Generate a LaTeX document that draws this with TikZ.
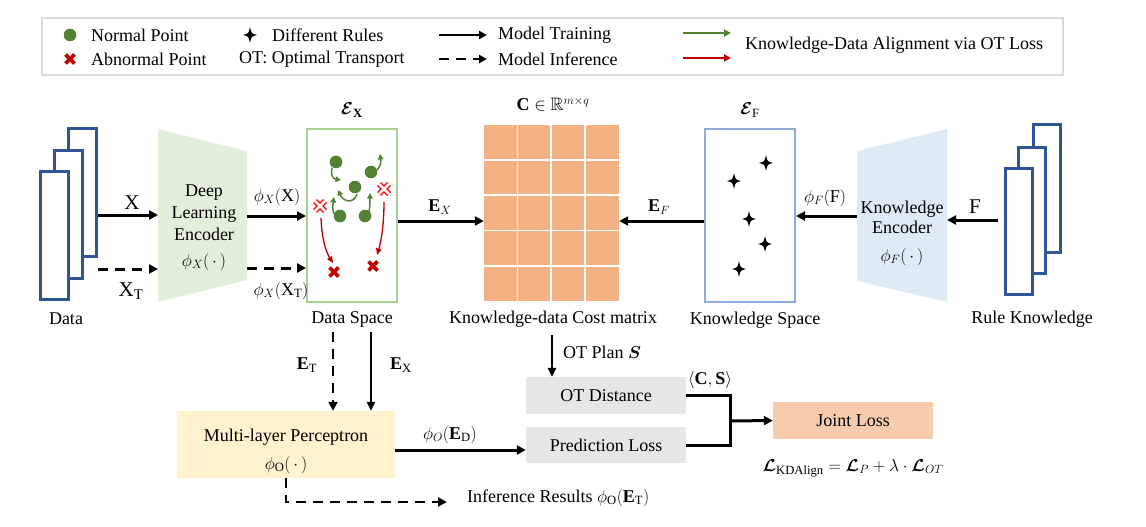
\documentclass[tikz,border=0pt]{standalone}
\usepackage{amsmath,amssymb}
\usepackage{fontspec}
\setmainfont{Liberation Serif}
\usetikzlibrary{arrows.meta,calc}
\definecolor{legendgray}{HTML}{DADADA}
\definecolor{stackblue}{HTML}{2F5597}
\definecolor{dotgreen}{HTML}{548235}
\definecolor{crossred}{HTML}{C00000}
\definecolor{hollowred}{HTML}{FF0000}
\definecolor{dsgreen}{HTML}{A9D18E}
\definecolor{ksblue}{HTML}{8FAADC}
\definecolor{dlgreen}{HTML}{E2EFDA}
\definecolor{keblue}{HTML}{DEEBF7}
\definecolor{matorange}{HTML}{F4B183}
\definecolor{mlpyellow}{HTML}{FFF2CC}
\definecolor{boxgray}{HTML}{E7E6E6}
\definecolor{jointorange}{HTML}{F8CBAD}
\tikzset{
  mainarr/.style={line width=3pt, -{Triangle[length=9pt,width=9pt]}},
  vertarr/.style={line width=2.3pt, -{Triangle[length=9pt,width=8pt]}},
  dasharr/.style={line width=3pt, dash pattern=on 10pt off 7pt, -{Triangle[length=9pt,width=9pt]}},
  legarr/.style={line width=2.6pt, -{Triangle[length=8pt,width=8pt]}},
  legdash/.style={line width=2.6pt, dash pattern=on 10pt off 7pt, -{Triangle[length=8pt,width=8pt]}},
  greenarr/.style={dotgreen, line width=1.5pt, -{Triangle[length=5.5pt,width=5.5pt]}},
  redarr/.style={crossred, line width=1.3pt, -{Triangle[length=6.5pt,width=5.5pt]}},
  stackrect/.style={draw=stackblue, line width=3pt, fill=white},
  bigtxt/.style={font=\fontsize{21}{24}\selectfont},
  rulestar/.pic={\fill (0,-8) .. controls (1.4,-1.4) .. (7,0) .. controls (1.4,1.4) .. (0,8) .. controls (-1.4,1.4) .. (-7,0) .. controls (-1.4,-1.4) .. (0,-8) -- cycle;},
  gdot/.pic={\fill[dotgreen] (0,0) circle[radius=6.3pt];},
  fcross/.pic={\draw[crossred, line width=3.6pt] (-4.5,-4.5) -- (4.5,4.5) (-4.5,4.5) -- (4.5,-4.5);},
  hcross/.pic={\draw[hollowred, line width=5.5pt] (-5,-5) -- (5,5) (-5,5) -- (5,-5);
               \draw[white, line width=2.5pt] (-5,-5) -- (5,5) (-5,5) -- (5,-5);}
}
\begin{document}
\begin{tikzpicture}[x=1pt,y=-1pt, every node/.style={font=\fontsize{18}{21}\selectfont, inner sep=0pt}]
\useasboundingbox (0,0) rectangle (1146,527);

% ---------------- legend ----------------
\node[draw=legendgray, line width=2pt, minimum width=1021pt, minimum height=57pt, anchor=north west] (legend) at (41,17) {};
\pic at (70,35) {gdot};
\node[anchor=west] (lnormal) at (91,35) {Normal Point};
\pic at (70,59) {fcross};
\node[anchor=west] (labnormal) at (91,59) {Abnormal Point};
\pic at (250,35) {rulestar};
\node[anchor=west] (lrules) at (272,35) {Different Rules};
\node[anchor=west] (lot) at (239,59) {OT: Optimal Transport};
\coordinate (lta) at (439,35); \coordinate (ltb) at (487,35);
\draw[legarr] (lta) -- (ltb);
\node[anchor=west] (ltrain) at (498,35) {Model Training};
\coordinate (lia) at (439,59); \coordinate (lib) at (487,59);
\draw[legdash] (lia) -- (lib);
\node[anchor=west] (linf) at (498,59) {Model Inference};
\coordinate (lga) at (683,33); \coordinate (lgb) at (731,33);
\draw[dotgreen, line width=1.8pt, -{Triangle[length=7pt,width=7pt]}] (lga) -- (lgb);
\coordinate (lra) at (683,58); \coordinate (lrb) at (731,58);
\draw[crossred, line width=1.8pt, -{Triangle[length=7pt,width=7pt]}] (lra) -- (lrb);
\node[anchor=west] (lalign) at (745,45) {Knowledge-Data Alignment via OT Loss};

% ---------------- data stack ----------------
\node[stackrect, minimum width=28pt, minimum height=128pt] (d3) at (82,192) {};
\node[stackrect, minimum width=28pt, minimum height=128pt] (d2) at (68,214) {};
\node[stackrect, minimum width=28pt, minimum height=128pt] (d1) at (54,235) {};
\node (datalbl) at (66,319) {Data};

% ---------------- deep learning encoder ----------------
\fill[dlgreen] (158,129) -- (247,151) -- (247,280) -- (158,302) -- cycle;
\coordinate (dlw) at (158,215);
\coordinate (dlwb) at (158,269);
\coordinate (dle) at (247,216);
\coordinate (dleb) at (247,268);
\node[align=center, font=\fontsize{18}{22}\selectfont] (dltext) at (204,213) {Deep\\Learning\\Encoder};
\node (dlphi) at (204,262) {$\phi_X(\,\cdot\,)$};

\draw[mainarr] (d3.east |- dlw) -- (dlw);
\draw[dasharr] (d3.east |- dlwb) -- (dlwb);
\node[bigtxt] (lblX) at (132,203) {X};
\node[bigtxt] (lblXT) at (131,291) {X$_{\mathrm{T}}$};

% ---------------- data space ----------------
\node[draw=dsgreen, line width=2pt, minimum width=90pt, minimum height=173pt] (dspace) at (352,215.5) {};
\node (epsX) at (352,110) {$\boldsymbol{\mathcal{E}}_{\mathbf{X}}$};
\node (dslbl) at (352,319) {Data Space};
\draw[mainarr] (dle) -- (dspace.west |- dle);
\draw[dasharr] (dleb) -- (dspace.west |- dleb);
\node (lphiX) at (277,197) {$\phi_X(\mathrm{X})$};
\node (lphiXT) at (281,291) {$\phi_X(\mathrm{X}_{\mathrm{T}})$};

\pic at (336,162) {gdot};
\pic at (371,172) {gdot};
\pic at (355,187) {gdot};
\pic at (340,216) {gdot};
\pic at (365,216) {gdot};
\draw[greenarr] (332,168) .. controls (330,176) and (334,179) .. (341,180);
\draw[greenarr] (377,170) .. controls (381,166) and (381,162) .. (380,154);
\draw[greenarr] (357,194) .. controls (353,205) and (343,201) .. (338,190);
\draw[greenarr] (334,214) .. controls (332,208) and (333,204) .. (334,197);
\draw[greenarr] (369,212) .. controls (370,206) and (370,200) .. (370,193);
\pic at (320,206) {hcross};
\pic at (384,189) {hcross};
\pic at (334,272) {fcross};
\pic at (373,266) {fcross};
\draw[redarr] (321,218) .. controls (322,240) and (326,252) .. (333,263);
\draw[redarr] (384,202) .. controls (384,225) and (381,242) .. (377,255);

% ---------------- cost matrix ----------------
\node[fill=matorange, minimum width=135pt, minimum height=176pt] (cmat) at (551.5,213) {};
\foreach \i in {1,2,3}
  \draw[white, line width=1.8pt] ($(cmat.north west)+(\i*33.75,0)$) -- ($(cmat.south west)+(\i*33.75,0)$);
\foreach \j in {1,2,3,4}
  \draw[white, line width=1.8pt] ($(cmat.north west)+(0,\j*35.2)$) -- ($(cmat.north east)+(0,\j*35.2)$);
\node (cmattitle) at (553,104) {$\mathbf{C}\in\mathbb{R}^{m\times q}$};
\node (cmatlbl) at (553,319) {Knowledge-data Cost matrix};
\coordinate (ey) at (0,221);
\draw[mainarr] (dspace.east |- ey) -- (cmat.west |- ey);
\node (lEX) at (440,207) {$\mathbf{E}_X$};

% ---------------- knowledge space ----------------
\node[draw=ksblue, line width=2pt, minimum width=90pt, minimum height=173pt] (kspace) at (750,215.5) {};
\node (epsF) at (750,110) {$\boldsymbol{\mathcal{E}}_{\mathrm{F}}$};
\node (kslbl) at (755,320) {Knowledge Space};
\draw[mainarr] (kspace.west |- ey) -- (cmat.east |- ey);
\node (lEF) at (659,207) {$\mathbf{E}_F$};
\pic at (766,163) {rulestar};
\pic at (734,181) {rulestar};
\pic at (749,219) {rulestar};
\pic at (765,244) {rulestar};
\pic at (739,269) {rulestar};

% ---------------- knowledge encoder ----------------
\fill[keblue] (857,151) -- (947,129) -- (947,302) -- (857,281) -- cycle;
\coordinate (kew) at (857,216);
\coordinate (kee) at (947,220);
\node[align=center, font=\fontsize{18}{20}\selectfont] (ketext) at (902,217) {Knowledge\\Encoder};
\node (kephi) at (902,257) {$\phi_F(\,\cdot\,)$};
\draw[mainarr] (kew) -- (kspace.east |- kew);
\node (lphiF) at (825,198) {$\phi_F(\mathrm{F})$};

% ---------------- rule knowledge stack ----------------
\node[stackrect, minimum width=27pt, minimum height=128pt] (r3) at (1046.5,188) {};
\node[stackrect, minimum width=27pt, minimum height=126pt] (r2) at (1032,210) {};
\node[stackrect, minimum width=27pt, minimum height=126pt] (r1) at (1018.5,231) {};
\node (rulelbl) at (1032,319) {Rule Knowledge};
\coordinate (fstart) at (998,220);
\draw[mainarr] (fstart) -- (kee);
\node[bigtxt] (lblF) at (975,207) {F};

% ---------------- MLP ----------------
\node[fill=mlpyellow, minimum width=218pt, minimum height=67pt] (mlp) at (286,444.5) {};
\node (mlptext) at (286,437) {Multi-layer Perceptron};
\node (mlpphi) at (286,465) {$\phi_{\mathrm{O}}(\,\cdot\,)$};
\coordinate (et0) at (333,332);
\draw[dasharr, line width=2.4pt] (et0) -- (mlp.north -| et0);
\node (lET) at (307,365) {$\mathbf{E}_{\mathrm{T}}$};
\coordinate (ex0) at (371,332);
\draw[vertarr] (ex0) -- (mlp.north -| ex0);
\node (lEX2) at (401,365) {$\mathbf{E}_{\mathrm{X}}$};

% ---------------- losses ----------------
\node[fill=boxgray, minimum width=160pt, minimum height=37pt] (otd) at (606,395.5) {OT Distance};
\node[fill=boxgray, minimum width=160pt, minimum height=36pt] (pred) at (606,445) {Prediction Loss};
\node[fill=jointorange, minimum width=160pt, minimum height=37pt] (joint) at (853,420.5) {Joint Loss};
\coordinate (otp0) at (552,335);
\draw[vertarr] (otp0) -- (otd.north -| otp0);
\node[anchor=west] (lotplan) at (563,352) {OT Plan $\boldsymbol{S}$};
\coordinate (pl) at (0,450);
\draw[mainarr] (mlp.east |- pl) -- (pred.west |- pl);
\node (lphiO) at (450,435) {$\phi_O(\mathbf{E}_{\mathrm{D}})$};
\coordinate (br) at (730,421);
\draw[line width=3pt, line join=miter] (otd.east) -- (otd.east -| br) -- (pred.east -| br) -- (pred.east);
\draw[mainarr] (br) -- (joint.west);
\node (lCS) at (710,380) {$\langle\mathbf{C},\mathbf{S}\rangle$};
\node (lform) at (853,468) {$\boldsymbol{\mathcal{L}}_{\mathrm{KDAlign}}=\boldsymbol{\mathcal{L}}_P+\lambda\cdot\boldsymbol{\mathcal{L}}_{OT}$};

% ---------------- inference ----------------
\node[anchor=west] (infres) at (467,498) {Inference Results $\phi_{\mathrm{O}}(\mathbf{E}_{\mathrm{T}})$};
\coordinate (infend) at (447,502);
\draw[dasharr, line width=2.4pt] (mlp.south) |- (infend);
\end{tikzpicture}
\end{document}
